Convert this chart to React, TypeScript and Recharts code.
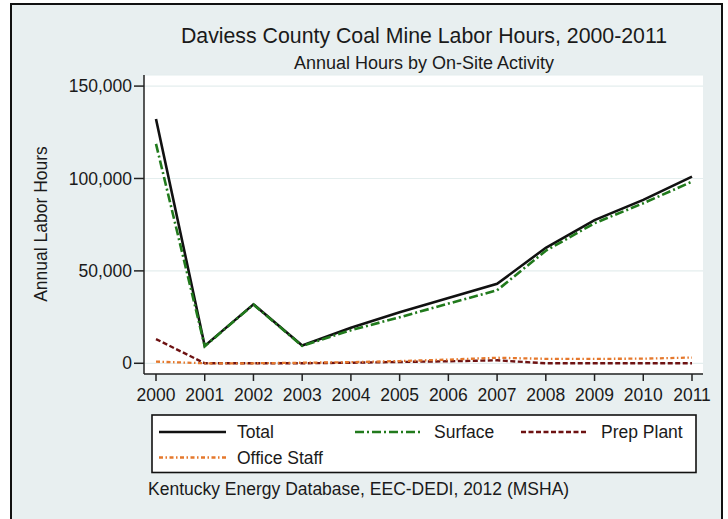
import React from "react";
import { LineChart, Line, XAxis, YAxis, CartesianGrid } from "recharts";

const years = [2000, 2001, 2002, 2003, 2004, 2005, 2006, 2007, 2008, 2009, 2010, 2011];
const total = [132200, 9400, 31900, 9600, 19200, 27600, 35300, 43000, 62500, 77500, 88400, 101000];
const surface = [118700, 9200, 31800, 9400, 17900, 24900, 32300, 39500, 60900, 75800, 86600, 98300];
const prepPlant = [13100, 0, 0, 0, 300, 700, 1100, 1600, 0, 0, 0, 0];
const officeStaff = [900, 0, 0, 300, 600, 1200, 2000, 3000, 2400, 2400, 2500, 3100];
const yTicks = [0, 50000, 100000, 150000];

const SERIES = [
  { key: "total", name: "Total", color: "#111111", dash: undefined, width: 2.6 },
  { key: "surface", name: "Surface", color: "#217a1c", dash: "9 3 2 3", width: 2.6 },
  { key: "prep", name: "Prep Plant", color: "#6e1212", dash: "5 2.5", width: 2.4 },
  { key: "office", name: "Office Staff", color: "#e5782c", dash: "4 2.5 1.5 2.5", width: 2.3 },
];

const data = years.map((year, i) => ({
  year,
  total: total[i],
  surface: surface[i],
  prep: prepPlant[i],
  office: officeStaff[i],
}));

const FONT = "'Liberation Sans', Arial, sans-serif";
const INK = "#1a1a1a";
const FRAME = { stroke: "#222", strokeWidth: 1.5 };

// legend slots: [row, line start x, text x]
const LEGEND_POS: [number, number, number][] = [
  [0, 159, 237],
  [0, 355, 434],
  [0, 521, 601],
  [1, 159, 237],
];

export default function App() {
  return (
    <div
      style={{
        position: "absolute", left: 0, top: 0, width: 728, height: 519,
        overflow: "hidden", background: "#fff", fontFamily: FONT,
      }}
    >
      <div
        style={{
          position: "absolute", left: 10, top: 3, width: 713, height: 540,
          boxSizing: "border-box", border: "2px solid #111", background: "#e8eff0",
        }}
      />
      <div style={{ position: "absolute", left: 0, top: 0 }}>
        <LineChart width={728} height={519} data={data} margin={{ top: 75, right: 25, bottom: 115, left: 0 }}>
          <CartesianGrid vertical={false} fill="#fff" stroke="#e4eeee" strokeWidth={1.2} />
          <XAxis
            dataKey="year" type="number" domain={[2000, 2011]} ticks={years} interval={0}
            padding={{ left: 12, right: 11 }} height={30} tickSize={7} tickMargin={8}
            axisLine={FRAME} tickLine={FRAME}
            tick={{ fill: INK, fontSize: 17.5 }}
          />
          <XAxis
            xAxisId="top" orientation="top" type="number" domain={[2000, 2011]} height={0}
            tick={false} tickLine={false} axisLine={FRAME}
          />
          <YAxis
            width={144} type="number" domain={[-5800, 156000]} ticks={yTicks} interval={0}
            tickSize={10} tickMargin={2} axisLine={FRAME} tickLine={FRAME}
            tick={{ fill: INK, fontSize: 17.5 }}
            tickFormatter={(v: number) => v.toLocaleString("en-US")}
          />
          <YAxis
            yAxisId="right" orientation="right" width={0} type="number" domain={[-5800, 156000]}
            tick={false} tickLine={false} axisLine={FRAME}
          />
          {SERIES.map((s) => (
            <Line
              key={s.key}
              type="linear"
              dataKey={s.key}
              name={s.name}
              stroke={s.color}
              strokeWidth={s.width}
              strokeDasharray={s.dash}
              dot={false}
              activeDot={false}
              isAnimationActive={false}
            />
          ))}
        </LineChart>
      </div>

      <svg
        width={728} height={519}
        style={{ position: "absolute", left: 0, top: 0, pointerEvents: "none" }}
        fontFamily={FONT}
      >
        <text x={424} y={43} textAnchor="middle" fontSize={21.3} fill={INK}>
          Daviess County Coal Mine Labor Hours, 2000-2011
        </text>
        <text x={424} y={69} textAnchor="middle" fontSize={18} fill={INK}>
          Annual Hours by On-Site Activity
        </text>
        <text
          x={0} y={0} textAnchor="middle" fontSize={17.5} fill={INK}
          transform="translate(46.5 224) rotate(-90)"
        >
          Annual Labor Hours
        </text>

        {/* legend */}
        <rect x={152} y={415} width={544} height={57.5} fill="#fff" stroke="#111" strokeWidth={1.6} />
        {SERIES.map((s, i) => {
          const [row, lx, tx] = LEGEND_POS[i];
          const ly = 432 + row * 25.5;
          return (
            <g key={s.key}>
              <line
                x1={lx} x2={lx + 67} y1={ly} y2={ly}
                stroke={s.color} strokeWidth={s.width} strokeDasharray={s.dash}
              />
              <text x={tx} y={ly + 6} fontSize={17.5} fill={INK}>{s.name}</text>
            </g>
          );
        })}

        <text x={148} y={495} fontSize={17.5} fill={INK}>
          Kentucky Energy Database, EEC-DEDI, 2012 (MSHA)
        </text>
      </svg>
    </div>
  );
}
